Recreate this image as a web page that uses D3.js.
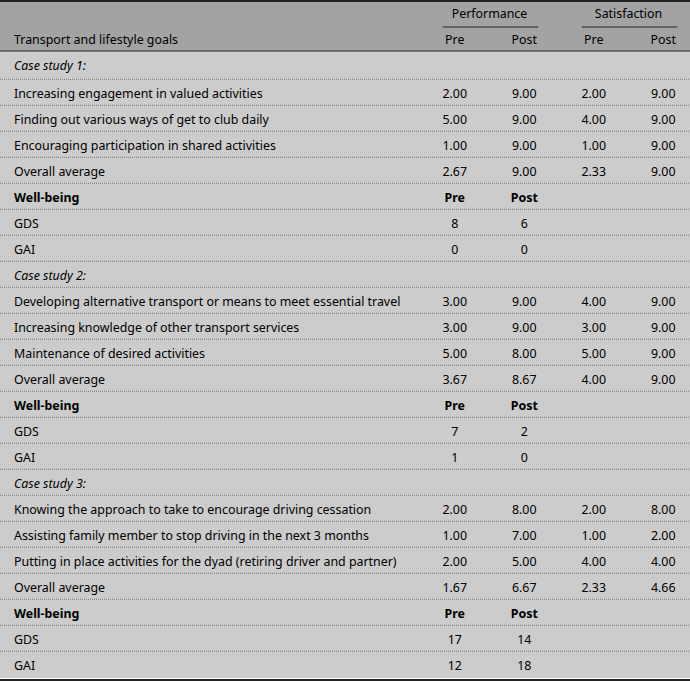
<!DOCTYPE html>
<html>
<head>
<meta charset="utf-8">
<script src="https://cdn.jsdelivr.net/npm/d3@7"></script>
<style>
  body { margin: 0; background: #fff; }
  svg text { font-family: "Noto Sans", sans-serif; font-size: 12.4px; fill: #000; }
</style>
</head>
<body>
<svg width="690" height="681"></svg>
<script>
// table contents
const caseTitles = ["Case study 1:", "Case study 2:", "Case study 3:"];
const goals = [
  ["Increasing engagement in valued activities",
   "Finding out various ways of get to club daily",
   "Encouraging participation in shared activities"],
  ["Developing alternative transport or means to meet essential travel",
   "Increasing knowledge of other transport services",
   "Maintenance of desired activities"],
  ["Knowing the approach to take to encourage driving cessation",
   "Assisting family member to stop driving in the next 3 months",
   "Putting in place activities for the dyad (retiring driver and partner)"]
];
const perfPre  = [[2.00, 5.00, 1.00], [3.00, 3.00, 5.00], [2.00, 1.00, 2.00]];
const perfPost = [[9.00, 9.00, 9.00], [9.00, 9.00, 8.00], [8.00, 7.00, 5.00]];
const satPre   = [[2.00, 4.00, 1.00], [4.00, 3.00, 5.00], [2.00, 1.00, 4.00]];
const satPost  = [[9.00, 9.00, 9.00], [9.00, 9.00, 9.00], [8.00, 2.00, 4.00]];
const avgPerfPre  = [2.67, 3.67, 1.67];
const avgPerfPost = [9.00, 8.67, 6.67];
const avgSatPre   = [2.33, 4.00, 2.33];
const avgSatPost  = [9.00, 9.00, 4.66];
const gdsPre  = [8, 7, 17];
const gdsPost = [6, 2, 14];
const gaiPre  = [0, 1, 12];
const gaiPost = [0, 0, 18];

const columns = ["perfPre", "perfPost", "satPre", "satPost"];
const groups = [
  {name: "Performance", cols: ["perfPre", "perfPost"]},
  {name: "Satisfaction", cols: ["satPre", "satPost"]}
];
const subHeads = ["Pre", "Post", "Pre", "Post"];

// build row list
const rows = [];
const f2 = d3.format(".2f");
caseTitles.forEach((title, c) => {
  rows.push({label: title, style: "italic", cells: []});
  goals[c].forEach((g, i) => {
    rows.push({label: g, cells: [perfPre[c][i], perfPost[c][i], satPre[c][i], satPost[c][i]].map(f2)});
  });
  rows.push({label: "Overall average",
    cells: [avgPerfPre[c], avgPerfPost[c], avgSatPre[c], avgSatPost[c]].map(f2)});
  rows.push({label: "Well-being", style: "bold", cells: ["Pre", "Post"]});
  rows.push({label: "GDS", cells: [gdsPre[c], gdsPost[c]].map(String)});
  rows.push({label: "GAI", cells: [gaiPre[c], gaiPost[c]].map(String)});
});

const width = 690, height = 681;
const headH = 51;
const svg = d3.select("svg");

const x = d3.scaleBand().domain(columns).range([420, 698]);
const y = d3.scaleLinear().domain([1, rows.length]).range([79.3, 677.3]);
const rowTop = i => i === 0 ? headH : y(i);
const rowMid = i => (rowTop(i) + y(i + 1)) / 2;

// backgrounds
svg.append("rect").attr("x", 0).attr("y", 0).attr("width", width).attr("height", headH)
  .attr("fill", "#a3a3a3");
svg.append("rect").attr("x", 0).attr("y", headH).attr("width", width).attr("height", height - headH)
  .attr("fill", "#cccccc");

// header text
svg.append("text").attr("x", 14).attr("y", 40).attr("dy", "0.35em").text("Transport and lifestyle goals");

groups.forEach(g => {
  const x0 = x(g.cols[0]) + x.bandwidth() / 2, x1 = x(g.cols[1]) + x.bandwidth() / 2;
  svg.append("text").attr("x", (x0 + x1) / 2).attr("y", 14).attr("dy", "0.35em")
    .attr("text-anchor", "middle").text(g.name);
  svg.append("line").attr("x1", x0 - 12).attr("x2", x1 + 14).attr("y1", 27).attr("y2", 27)
    .attr("stroke", "#222").attr("stroke-width", 1);
});

svg.selectAll(".subhead").data(columns).join("text")
  .attr("class", "subhead")
  .attr("x", d => x(d) + x.bandwidth() / 2).attr("y", 40).attr("dy", "0.35em")
  .attr("text-anchor", "middle").text((d, i) => subHeads[i]);

// rule lines
svg.append("line").attr("x1", 0).attr("x2", width).attr("y1", 1).attr("y2", 1)
  .attr("stroke", "#222").attr("stroke-width", 2);
svg.append("line").attr("x1", 0).attr("x2", width).attr("y1", headH).attr("y2", headH)
  .attr("stroke", "#222").attr("stroke-width", 1.2);
svg.selectAll(".sep").data(d3.range(1, rows.length)).join("line")
  .attr("class", "sep")
  .attr("x1", 0).attr("x2", width)
  .attr("y1", d => y(d)).attr("y2", d => y(d))
  .attr("stroke", "#7a7a7a").attr("stroke-width", 1).attr("stroke-dasharray", "1,1");
svg.append("line").attr("x1", 0).attr("x2", width).attr("y1", 678.5).attr("y2", 678.5)
  .attr("stroke", "#fff").attr("stroke-width", 1);
svg.append("line").attr("x1", 0).attr("x2", width).attr("y1", 680).attr("y2", 680)
  .attr("stroke", "#222").attr("stroke-width", 2);

// body rows
const rowG = svg.selectAll(".row").data(rows).join("g")
  .attr("class", "row")
  .attr("transform", (d, i) => `translate(0,${rowMid(i) + 1})`);

rowG.append("text")
  .attr("x", 14).attr("dy", "0.35em")
  .style("font-style", d => d.style === "italic" ? "italic" : null)
  .style("font-weight", d => d.style === "bold" ? "bold" : null)
  .text(d => d.label);

rowG.each(function(d) {
  d3.select(this).selectAll(".cell").data(d.cells).join("text")
    .attr("class", "cell")
    .attr("x", (v, j) => x(columns[j]) + x.bandwidth() / 2)
    .attr("dy", "0.35em")
    .attr("text-anchor", "middle")
    .style("font-weight", d.style === "bold" ? "bold" : null)
    .text(v => v);
});
</script>
</body>
</html>
